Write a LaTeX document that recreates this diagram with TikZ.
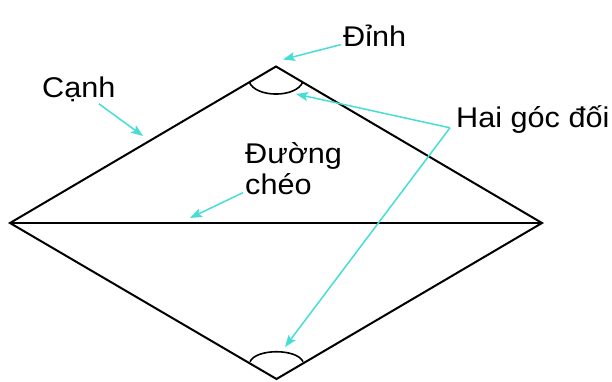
\documentclass[tikz,border=0pt]{standalone}
\usepackage{fontspec}
\setmainfont[FakeStretch=1.075]{Liberation Sans}
\usetikzlibrary{arrows.meta,calc,positioning}
\definecolor{pointercyan}{RGB}{70,222,212}
\tikzset{
  edge/.style={line width=2pt},
  anglearc/.style={line width=1.6pt},
  pointer/.style={pointercyan, line width=1.5pt, -{Stealth[length=12pt,width=9pt,inset=2.5pt]}},
  lbl/.style={font=\fontsize{28.5}{31}\selectfont, inner sep=2pt, anchor=base west}
}

\begin{document}
\begin{tikzpicture}[x=1pt,y=1pt]
\useasboundingbox (0,0) rectangle (612,381);
\coordinate (L) at (10,158);
\coordinate (R) at (542,158);
\coordinate (T) at (276,314.5);
\coordinate (B) at (276.5,2);
% canh va duong cheo
\draw[edge] (L)--(T)--(R)--(B)--cycle;
\draw[edge] (L)--(R);
% hai goc doi
\draw[anglearc] (249.3,298.8) .. controls (256,283) and (296,283) .. (302.7,298.8);
\draw[anglearc] (250,19.3) .. controls (256,32.6) and (297,32.6) .. (303,19.3);
% nhan
\node[lbl] (dinh) at (341,334.3) {Đỉnh};
\node[lbl] (canh) at (40,283.7) {Cạnh};
\node[lbl,align=left] (cheo) at (243,186.7) {Đường\\chéo};
\node[lbl] (hai) at (454,253.3) {Hai góc đối};
\coordinate (tipV) at ($(T)+(7,7)$);
\coordinate (tipC) at (143,245);
\coordinate (tipD) at (190,163);
\coordinate (tipT) at (296,287);
\coordinate (tipB) at (285,34);
\coordinate (fork) at ($(hai.south west)+(-4,8)$);
\draw[pointer] (dinh) -- (tipV);
\draw[pointer] (canh) -- (tipC);
\draw[pointer] (cheo) -- (tipD);
\draw[pointer] (fork) -- (tipT);
\draw[pointer] (fork) -- (tipB);
\end{tikzpicture}
\end{document}
